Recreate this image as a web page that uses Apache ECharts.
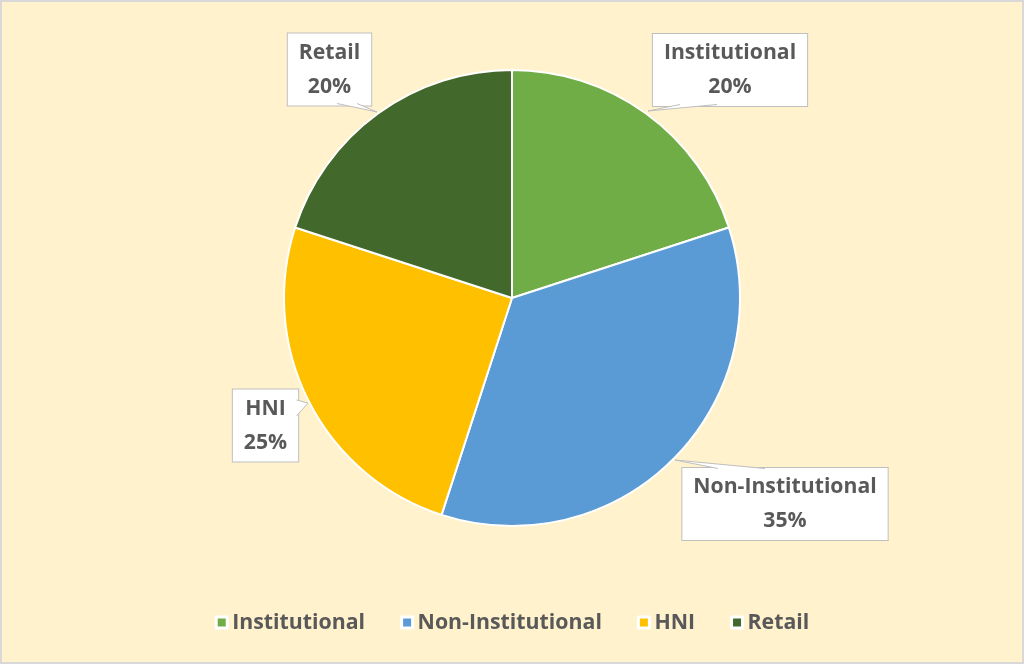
<!DOCTYPE html>
<html>
<head>
<meta charset="utf-8">
<script src="https://cdn.jsdelivr.net/npm/echarts@6/dist/echarts.min.js"></script>
<style>
html,body{margin:0;padding:0;background:#FFF2CC;}
#chart{width:1024px;height:664px;}
</style>
</head>
<body>
<div id="chart"></div>
<script>
const categories = ['Institutional', 'Non-Institutional', 'HNI', 'Retail'];
const shares = [20, 35, 25, 20];
const colors = ['#70AD47', '#5B9BD5', '#FFC000', '#43682B'];

// label box centres (callouts)
const labelCenters = [[730, 70], [785, 504], [265.5, 425.5], [329.5, 69.5]];
// callout pointer wedges: [base A, tip, base B]
const pointers = [
  [[717, 104.5], [648, 111], [680, 104.5]],
  [[765, 468.5], [675, 460], [718, 468.5]],
  [[296.5, 400], [308, 403], [296.5, 416]],
  [[357, 103.5], [377, 112], [337, 103.5]]
];

const FONT = 'Open Sans';
const TEXT = '#595959';
const EDGE = '#BFBFBF';

const graphics = [{
  type: 'rect', silent: true, z: 0,
  shape: {x: 1, y: 1, width: 1022, height: 662},
  style: {fill: 'none', stroke: '#D9D9D9', lineWidth: 2}
}];
pointers.forEach(p => {
  graphics.push({type: 'polygon', silent: true, z: 100,
    shape: {points: p}, style: {fill: '#ffffff', stroke: 'none'}});
  graphics.push({type: 'polyline', silent: true, z: 101,
    shape: {points: p}, style: {fill: 'none', stroke: EDGE, lineWidth: 1}});
});

const chart = echarts.init(document.getElementById('chart'));
chart.setOption({
  backgroundColor: '#FFF2CC',
  animation: false,
  color: colors,
  graphic: graphics,
  legend: {
    top: 607,
    left: 'center',
    itemWidth: 11,
    itemHeight: 11,
    itemGap: 35,
    icon: 'rect',
    itemStyle: {borderColor: '#ffffff', borderWidth: 3},
    textStyle: {fontFamily: FONT, fontWeight: 'bold', fontSize: 21.3, color: TEXT},
    data: categories
  },
  series: [{
    type: 'pie',
    center: [512, 298],
    radius: 228,
    startAngle: 90,
    clockwise: true,
    itemStyle: {borderColor: '#ffffff', borderWidth: 2},
    data: categories.map((c, i) => ({name: c, value: shares[i]})),
    label: {
      show: true,
      formatter: '{b}\n{d}%',
      fontFamily: FONT,
      fontWeight: 'bold',
      fontSize: 21.2,
      lineHeight: 34,
      color: TEXT,
      backgroundColor: '#ffffff',
      borderColor: EDGE,
      borderWidth: 1,
      padding: [2, 11],
      align: 'center'
    },
    labelLine: {show: false},
    labelLayout: function (params) {
      const p = labelCenters[params.dataIndex];
      return {x: p[0], y: p[1], align: 'center', verticalAlign: 'middle'};
    }
  }]
});
</script>
</body>
</html>
